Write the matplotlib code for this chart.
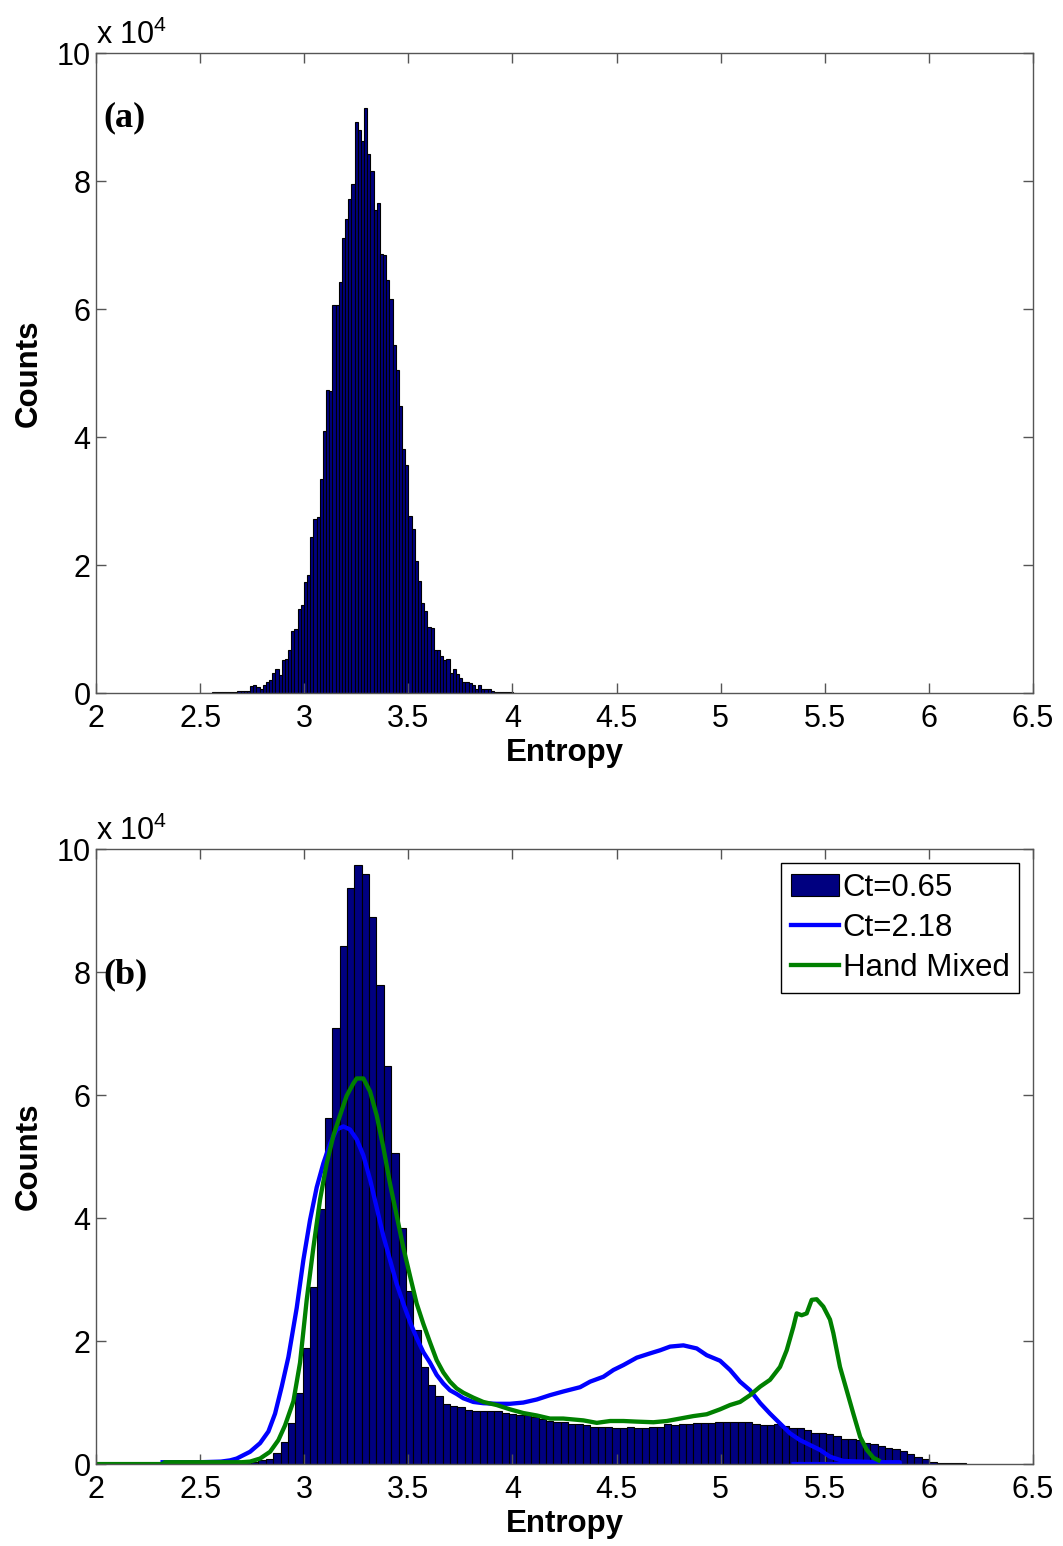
import numpy as np
import matplotlib
matplotlib.use('Agg')
import matplotlib.pyplot as plt
from matplotlib.ticker import FormatStrFormatter

plt.rcParams['font.family'] = ['Liberation Sans', 'DejaVu Sans']
plt.rcParams['font.size'] = 22
plt.rcParams['mathtext.fontset'] = 'custom'
plt.rcParams['mathtext.rm'] = 'Liberation Sans'

# panel (a): histogram, counts in units of 1e4
a_start = 2.497
a_width = 0.0152
a_counts = [0, 0, 0, 0, 0.01, 0.01, 0.01, 0.01, 0.02, 0.02,
            0.02, 0.02, 0.03, 0.03, 0.03, 0.04, 0.11,
            0.12, 0.09, 0.06, 0.12, 0.18, 0.21, 0.32, 0.37, 0.29, 0.52,
            0.54, 0.68, 0.97, 1.00, 1.31, 1.37, 1.74, 1.84, 2.44, 2.72,
            2.75, 3.35, 4.10, 4.74, 4.72, 6.07, 6.06, 6.42, 7.11, 7.40,
            7.72, 7.95, 8.92, 8.80, 8.62, 9.14, 8.43, 8.16, 7.54, 7.66,
            6.86, 6.85, 6.46, 6.15, 5.44, 5.05, 4.48, 3.81, 3.56, 2.76,
            2.57, 2.07, 1.75, 1.41, 1.28, 1.04, 1.02, 0.68, 0.67, 0.58,
            0.52, 0.54, 0.32, 0.38, 0.30, 0.23, 0.18, 0.18, 0.15, 0.12,
            0.06, 0.12, 0.06, 0.06, 0.07, 0.03, 0.01, 0.02, 0.01, 0.02,
            0.01, 0.01, 0.0]

# panel (b): histogram Ct=0.65
b_start = 2.32
b_width = 0.0354
b_counts = [0.01, 0.01, 0.01, 0.01, 0.01, 0.01, 0.01, 0.01, 0.01, 0.02,
            0.02, 0.03, 0.04, 0.065, 0.09, 0.18, 0.36, 0.67, 1.16, 1.89,
            2.88, 4.15, 5.62, 7.09, 8.42, 9.36, 9.74, 9.60, 8.89, 7.79,
            6.47, 5.06, 3.84, 2.81, 2.18, 1.58, 1.29, 1.11, 0.98, 0.94,
            0.92, 0.88, 0.87, 0.86, 0.86, 0.86, 0.83, 0.81, 0.80, 0.79,
            0.76, 0.73, 0.70, 0.69, 0.68, 0.65, 0.65, 0.63, 0.61, 0.61,
            0.61, 0.59, 0.59, 0.61, 0.59, 0.59, 0.61, 0.61, 0.645, 0.63,
            0.65, 0.65, 0.67, 0.67, 0.67, 0.68, 0.68, 0.68, 0.68, 0.68,
            0.65, 0.64, 0.63, 0.65, 0.62, 0.585, 0.585, 0.55, 0.51, 0.50,
            0.49, 0.455, 0.41, 0.40, 0.385, 0.35, 0.325, 0.29, 0.26, 0.245,
            0.21, 0.16, 0.12, 0.076, 0.04, 0.02, 0.02, 0.02, 0.02]

# Ct=2.18 curve
blue_x = [2.32, 2.40, 2.50, 2.60, 2.644, 2.676, 2.74, 2.788, 2.828, 2.86,
          2.892, 2.924, 2.964, 2.996, 3.028, 3.06, 3.092, 3.124, 3.156, 3.188,
          3.22, 3.252, 3.284, 3.316, 3.348, 3.38, 3.412, 3.444, 3.476, 3.508,
          3.54, 3.572, 3.604, 3.636, 3.668, 3.70, 3.732, 3.764, 3.812, 3.86,
          3.924, 3.988, 4.052, 4.117, 4.18, 4.244, 4.325, 4.373, 4.437, 4.485,
          4.533, 4.597, 4.661, 4.709, 4.757, 4.821, 4.885, 4.933, 4.997, 5.045,
          5.093, 5.141, 5.19, 5.237, 5.285, 5.333, 5.381, 5.429, 5.477, 5.525,
          5.589, 5.67, 5.76, 5.86, 5.86, 5.35]
blue_y = [0.03, 0.03, 0.03, 0.04, 0.06, 0.09, 0.2, 0.34, 0.53, 0.82,
          1.26, 1.74, 2.54, 3.32, 3.97, 4.50, 4.89, 5.21, 5.44, 5.49,
          5.44, 5.28, 5.02, 4.63, 4.17, 3.71, 3.32, 2.93, 2.61, 2.31,
          2.05, 1.82, 1.65, 1.45, 1.31, 1.20, 1.14, 1.07, 1.01, 0.99,
          0.98, 0.98, 1.00, 1.05, 1.12, 1.18, 1.25, 1.34, 1.42, 1.53,
          1.61, 1.73, 1.80, 1.85, 1.91, 1.93, 1.88, 1.77, 1.68, 1.53,
          1.34, 1.20, 0.99, 0.82, 0.66, 0.50, 0.39, 0.31, 0.23, 0.12,
          0.05, 0.04, 0.03, 0.03, 0.0, 0.0]

# Hand Mixed curve
green_x = [2.0, 2.32, 2.33, 2.50, 2.70, 2.74, 2.788, 2.836, 2.876, 2.908,
           2.948, 2.98, 3.012, 3.044, 3.076, 3.108, 3.14, 3.172, 3.204, 3.236,
           3.252, 3.284, 3.316, 3.348, 3.38, 3.412, 3.444, 3.476, 3.508, 3.54,
           3.572, 3.604, 3.636, 3.668, 3.70, 3.732, 3.764, 3.812, 3.86, 3.924,
           3.988, 4.052, 4.117, 4.18, 4.244, 4.341, 4.405, 4.469, 4.533, 4.597,
           4.677, 4.741, 4.805, 4.869, 4.933, 4.997, 5.045, 5.093, 5.141, 5.19,
           5.237, 5.285, 5.317, 5.349, 5.365, 5.389, 5.413, 5.437, 5.461, 5.493,
           5.525, 5.541, 5.573, 5.605, 5.637, 5.67, 5.702, 5.734, 5.758]
green_y = [0.0, 0.0, 0.03, 0.03, 0.03, 0.04, 0.09, 0.2, 0.39, 0.63,
           1.02, 1.65, 2.67, 3.52, 4.30, 4.89, 5.34, 5.67, 5.99, 6.19,
           6.27, 6.27, 6.06, 5.67, 5.15, 4.56, 4.04, 3.52, 3.06, 2.61,
           2.28, 1.98, 1.69, 1.49, 1.34, 1.23, 1.16, 1.08, 1.01, 0.96,
           0.89, 0.83, 0.79, 0.74, 0.74, 0.71, 0.67, 0.70, 0.70, 0.69,
           0.68, 0.70, 0.74, 0.78, 0.81, 0.89, 0.96, 1.01, 1.12, 1.26,
           1.37, 1.58, 1.85, 2.23, 2.45, 2.42, 2.45, 2.67, 2.68, 2.56,
           2.35, 2.13, 1.58, 1.20, 0.82, 0.44, 0.23, 0.10, 0.06]

xtick_vals = [2, 2.5, 3, 3.5, 4, 4.5, 5, 5.5, 6, 6.5]
ytick_vals = [0, 2, 4, 6, 8, 10]

bar_color = '#000080'
spine_color = '#555555'

fig = plt.figure(figsize=(10.63, 15.46), dpi=100)
ax1 = fig.add_axes([0.0903, 0.5517, 0.8815, 0.4140])
ax2 = fig.add_axes([0.0903, 0.0530, 0.8815, 0.3978])


def histo(ax, start, width, counts, label=None):
    edges = start + width * np.arange(len(counts) + 1)
    ax.hist(edges[:-1], bins=edges, weights=counts, color=bar_color,
            edgecolor='black', linewidth=0.8, label=label)


histo(ax1, a_start, a_width, a_counts)
histo(ax2, b_start, b_width, b_counts, label='Ct=0.65')
ax2.plot(blue_x, blue_y, color='#0000FF', linewidth=3.1, label='Ct=2.18')
ax2.plot(green_x, green_y, color='#008000', linewidth=3.1, label='Hand Mixed')

for ax, tag, ty in [(ax1, '(a)', 0.898), (ax2, '(b)', 0.795)]:
    ax.set_xlim(2, 6.5)
    ax.set_ylim(0, 10)
    ax.set_xticks(xtick_vals)
    ax.set_yticks(ytick_vals)
    ax.xaxis.set_major_formatter(FormatStrFormatter('%g'))
    ax.tick_params(direction='in', top=True, right=True, length=7,
                   width=1, color=spine_color, labelsize=22)
    ax.tick_params(axis='x', pad=8)
    ax.tick_params(axis='y', pad=4)
    for sp in ax.spines.values():
        sp.set_color(spine_color)
        sp.set_linewidth(1)
    ax.set_xlabel('Entropy', fontweight='bold', fontsize=22.5, labelpad=3)
    ax.set_ylabel('Counts', fontweight='bold', fontsize=22.5, labelpad=9)
    ax.text(0.0, 1.003, 'x 10$^4$', transform=ax.transAxes,
            ha='left', va='bottom', fontsize=22)
    ax.text(0.008, ty, tag, transform=ax.transAxes, ha='left', va='center',
            fontsize=26, fontweight='bold', family='Liberation Serif')

leg = ax2.legend(loc='upper right', fontsize=22.5, fancybox=False,
                 framealpha=1, edgecolor='black', borderaxespad=0.45,
                 handlelength=1.55, handletextpad=0.12, labelspacing=0.33,
                 borderpad=0.3)
leg.get_frame().set_linewidth(1)

fig.savefig('out.png', dpi=100, facecolor='white')
